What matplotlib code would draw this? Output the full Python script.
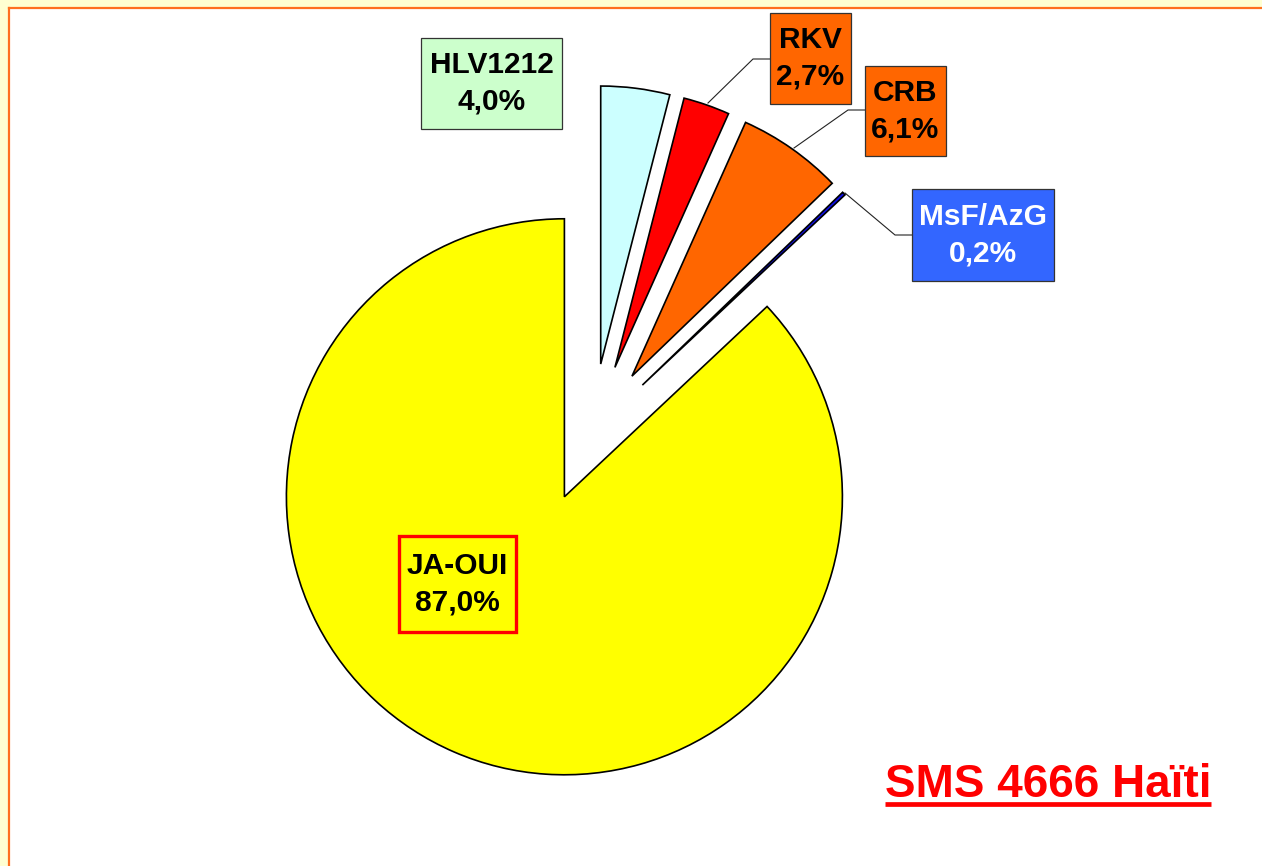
import matplotlib
matplotlib.use("Agg")
import matplotlib.pyplot as plt
from matplotlib.patches import Rectangle

# slices, counter-clockwise from 12 o'clock
labels = ["JA-OUI", "MsF/AzG", "CRB", "RKV", "HLV1212"]
shares = [87.0, 0.2, 6.1, 2.7, 4.0]
colors = ["#FFFF00", "#1010E8", "#FF6600", "#FF0000", "#CCFFFF"]

W, H = 1262, 866
R = 278  # pie radius in pixels
plt.rcParams["font.family"] = ["Liberation Sans", "DejaVu Sans"]

fig = plt.figure(figsize=(W / 100, H / 100), dpi=100)
ax = fig.add_axes([0, 0, 1, 1])


def Y(y):  # image row -> data y
    return H - y


# frame: pale strip on top/left and orange rule
ax.add_patch(Rectangle((0, Y(8)), W, 8, fc="#FFFFD2", ec="none", zorder=0))
ax.add_patch(Rectangle((0, 0), 8, H, fc="#FFFFD2", ec="none", zorder=0))
ax.plot([9, W], [Y(8), Y(8)], color="#FF7020", lw=1.6, zorder=1)
ax.plot([9, 9], [0, Y(8)], color="#FF7020", lw=1.6, zorder=1)

# every slice pulled out by a quarter radius (explode is in data units here)
ax.pie(shares, colors=colors, startangle=90, counterclock=True,
       center=(592, Y(433)), radius=R, explode=[0.25 * R] * len(shares),
       wedgeprops=dict(edgecolor="black", linewidth=1.2), frame=True)
ax.set_xlim(0, W)
ax.set_ylim(0, H)
ax.set_aspect("equal")
ax.axis("off")

# label boxes: (x0, y0, x1, y1) in image pixels, face, edge, text colour
boxes = {
    "HLV1212": ((421, 38, 562, 129), "#CCFFCC", "#333333", "black"),
    "RKV": ((770, 13, 851, 104), "#FF6600", "#333333", "black"),
    "CRB": ((865, 66, 946, 156), "#FF6600", "#333333", "black"),
    "MsF/AzG": ((912, 189, 1054, 281), "#3366FF", "#333333", "white"),
    "JA-OUI": ((399, 536, 516, 632), "none", "#FF0000", "black"),
}
for name, share in zip(labels, shares):
    (x0, y0, x1, y1), fc, ec, tc = boxes[name]
    lw = 2.4 if name == "JA-OUI" else 0.9
    ax.add_patch(Rectangle((x0, Y(y1)), x1 - x0, y1 - y0, fc=fc, ec=ec,
                           lw=lw, zorder=5))
    txt = f"{name}\n{share:.1f}%".replace(".", ",")
    ax.text((x0 + x1) / 2, Y((y0 + y1) / 2), txt, ha="center", va="center",
            fontsize=21.5, fontweight="bold", color=tc, linespacing=1.4,
            zorder=6)

# leader lines
leaders = [
    [(708, 103), (753, 59), (770, 59)],
    [(794, 148), (848, 110), (865, 110)],
    [(845, 193), (895, 235), (912, 235)],
]
for pts in leaders:
    ax.plot([p[0] for p in pts], [Y(p[1]) for p in pts], color="#222222",
            lw=0.8, zorder=4)

# title, underlined
ax.text(1048, Y(797), "SMS 4666 Haïti", ha="center", va="baseline",
        fontsize=33, fontweight="bold", color="#FF0000", zorder=6)
ax.plot([885, 1211], [Y(803.5), Y(803.5)], color="#FF0000", lw=3.4,
        solid_capstyle="butt", zorder=6)

fig.savefig("out.png", dpi=100)
